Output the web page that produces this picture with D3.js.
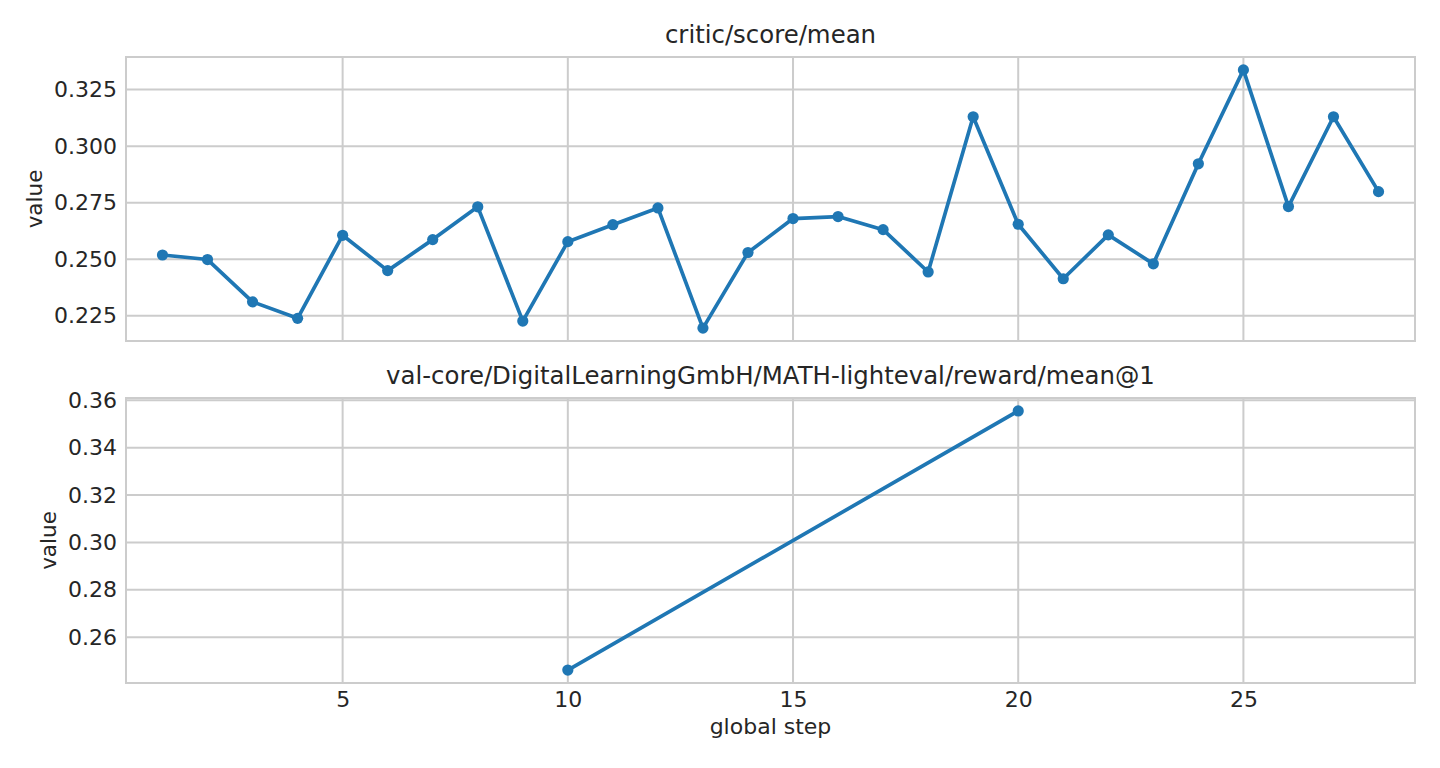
<!DOCTYPE html>
<html>
<head>
<meta charset="utf-8">
<script src="https://cdn.jsdelivr.net/npm/d3@7"></script>
<style>
  body { margin: 0; background: #fff; }
  text { font-family: "DejaVu Sans", sans-serif; fill: #262626; }
</style>
</head>
<body>
<script>
//size of the page
var w = 1440;
var h = 768;

//critic score per global step (1..28)
var scoreSteps = d3.range(1, 29);
var scoreValues = [0.2519, 0.2499, 0.2312, 0.2239, 0.2606, 0.2450, 0.2587, 0.2732,
                   0.2227, 0.2578, 0.2653, 0.2727, 0.2196, 0.2530, 0.2680, 0.2689,
                   0.2631, 0.2444, 0.3130, 0.2655, 0.2414, 0.2608, 0.2480, 0.2922,
                   0.3337, 0.2733, 0.3130, 0.2799];

//validation reward, only two evals
var valSteps = [10, 20];
var valValues = [0.2461, 0.3555];

//tick labels
var xTicks = [5, 10, 15, 20, 25];
var scoreTicks = [0.225, 0.250, 0.275, 0.300, 0.325];
var valTicks = [0.26, 0.28, 0.30, 0.32, 0.34, 0.36];

var titles = ["critic/score/mean", "val-core/DigitalLearningGmbH/MATH-lighteval/reward/mean@1"];

var left = 126, right = 1415;
var panels = [
    { top: 57, bottom: 341, xs: scoreSteps, ys: scoreValues, ticks: scoreTicks, fmt: d3.format(".3f"), title: titles[0] },
    { top: 398, bottom: 683, xs: valSteps, ys: valValues, ticks: valTicks, fmt: d3.format(".2f"), title: titles[1] }
];

var blue = "#1f77b4";
var gridColor = "#cccccc";

var svg = d3.select("body")
            .append("svg")
            .attr("width", w)
            .attr("height", h);

//shared x scale, matplotlib-like 3% margin
var xExt = d3.extent(scoreSteps);
var xPad = (xExt[1] - xExt[0]) * 0.03;
var xScale = d3.scaleLinear()
               .domain([xExt[0] - xPad, xExt[1] + xPad])
               .range([left, right]);

panels.forEach(function(p, idx) {
    var ext = d3.extent(p.ys);
    var pad = (ext[1] - ext[0]) * 0.05;
    var yScale = d3.scaleLinear()
                   .domain([ext[0] - pad, ext[1] + pad])
                   .range([p.bottom, p.top]);

    var g = svg.append("g");

    //grid
    g.selectAll(".vgrid")
        .data(xTicks)
        .enter()
        .append("line")
        .attr("x1", function(d) { return xScale(d); })
        .attr("x2", function(d) { return xScale(d); })
        .attr("y1", p.top)
        .attr("y2", p.bottom)
        .attr("stroke", gridColor)
        .attr("stroke-width", 2);

    g.selectAll(".hgrid")
        .data(p.ticks)
        .enter()
        .append("line")
        .attr("x1", left)
        .attr("x2", right)
        .attr("y1", function(d) { return yScale(d); })
        .attr("y2", function(d) { return yScale(d); })
        .attr("stroke", gridColor)
        .attr("stroke-width", 2);

    //frame
    g.append("rect")
        .attr("x", left)
        .attr("y", p.top)
        .attr("width", right - left)
        .attr("height", p.bottom - p.top)
        .attr("fill", "none")
        .attr("stroke", gridColor)
        .attr("stroke-width", 2);

    //y axis labels
    var yAxis = d3.axisLeft(yScale)
                  .tickValues(p.ticks)
                  .tickFormat(p.fmt)
                  .tickSize(0)
                  .tickPadding(9);
    var ya = g.append("g")
              .attr("transform", "translate(" + left + ",0)")
              .call(yAxis);
    ya.select(".domain").remove();
    ya.selectAll("text")
        .style("font-size", "22px")
        .attr("fill", "#262626");

    g.append("text")
        .attr("transform", "translate(" + (idx === 0 ? 42 : 56) + "," + ((p.top + p.bottom) / 2) + ") rotate(-90)")
        .attr("text-anchor", "middle")
        .style("font-size", "21.5px")
        .text("value");

    g.append("text")
        .attr("x", (left + right) / 2)
        .attr("y", p.top - 14)
        .attr("text-anchor", "middle")
        .style("font-size", "24.4px")
        .text(p.title);

    //line and markers
    var pts = p.xs.map(function(x, i) { return [x, p.ys[i]]; });
    var line = d3.line()
                 .x(function(d) { return xScale(d[0]); })
                 .y(function(d) { return yScale(d[1]); });

    g.append("path")
        .datum(pts)
        .attr("d", line)
        .attr("fill", "none")
        .attr("stroke", blue)
        .attr("stroke-width", 3.7)
        .attr("stroke-linejoin", "round")
        .attr("stroke-linecap", "round");

    g.selectAll(".dot")
        .data(pts)
        .enter()
        .append("circle")
        .attr("cx", function(d) { return xScale(d[0]); })
        .attr("cy", function(d) { return yScale(d[1]); })
        .attr("r", 5.6)
        .attr("fill", blue);

    //x labels only on bottom panel
    if (idx === 1) {
        var xAxis = d3.axisBottom(xScale)
                      .tickValues(xTicks)
                      .tickFormat(d3.format("d"))
                      .tickSize(0)
                      .tickPadding(8);
        var xa = g.append("g")
                  .attr("transform", "translate(0," + p.bottom + ")")
                  .call(xAxis);
        xa.select(".domain").remove();
        xa.selectAll("text")
            .style("font-size", "22px")
            .attr("fill", "#262626");

        g.append("text")
            .attr("x", (left + right) / 2)
            .attr("y", 734)
            .attr("text-anchor", "middle")
            .style("font-size", "22px")
            .text("global step");
    }
});
</script>
</body>
</html>
